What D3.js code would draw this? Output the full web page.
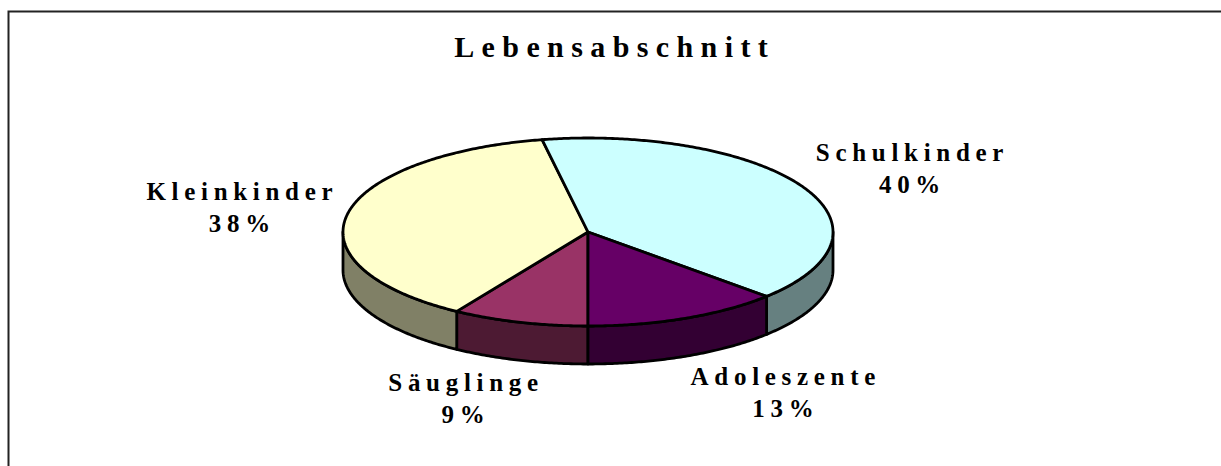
<!DOCTYPE html>
<html><head><meta charset="utf-8">
<script src="https://cdn.jsdelivr.net/npm/d3@7"></script>
<style>html,body{margin:0;background:#fff;overflow:hidden}svg{display:block}</style>
</head><body>
<svg id="c" width="1221" height="466"></svg>
<script>
const title = "Lebensabschnitt";
const categories = ["Säuglinge", "Kleinkinder", "Schulkinder", "Adoleszente"];
const values = [9, 38, 40, 13];
const percentLabels = ["9%", "38%", "40%", "13%"];
const topColors = ["#993366", "#FFFFCC", "#CCFFFF", "#660066"];
const sideColors = ["#4D1A33", "#808066", "#668080", "#330033"];

const W = 1221, H = 466;
const svg = d3.select("#c");
svg.append("rect").attr("x", 0).attr("y", 0).attr("width", W).attr("height", H).attr("fill", "#fff");
svg.append("rect").attr("x", 8.5).attr("y", 11.5).attr("width", 1400).attr("height", 700)
  .attr("fill", "none").attr("stroke", "#222").attr("stroke-width", 2);

const cx = 588, cy = 232, rx = 245, ry = 94, depth = 38;
const pie = d3.pie().sort(null).startAngle(Math.PI).endAngle(3 * Math.PI);
const arcs = pie(values);
const px = a => cx + rx * Math.sin(a);
const py = a => cy - ry * Math.cos(a);

function arcPath(a0, a1, dy) {
  const n = Math.max(2, Math.ceil(Math.abs(a1 - a0) / 0.01));
  return d3.range(n + 1).map(i => {
    const a = a0 + (a1 - a0) * i / n;
    return [px(a), py(a) + dy];
  });
}
const line = d3.line();
const SW = 2.8;

const g = svg.append("g");
arcs.forEach((d, i) => {
  const ranges = [[Math.PI / 2, 3 * Math.PI / 2], [Math.PI / 2 + 2 * Math.PI, 3 * Math.PI / 2 + 2 * Math.PI]];
  ranges.forEach(r => {
    const s = Math.max(d.startAngle, r[0]), e = Math.min(d.endAngle, r[1]);
    if (e > s) {
      const top = arcPath(s, e, 0);
      const bot = arcPath(e, s, depth);
      g.append("path").attr("d", line(top.concat(bot)) + "Z")
        .attr("fill", sideColors[i]).attr("stroke", "#000").attr("stroke-width", SW)
        .attr("stroke-linejoin", "round");
    }
  });
});
arcs.forEach((d, i) => {
  const pts = [[cx, cy]].concat(arcPath(d.startAngle, d.endAngle, 0));
  g.append("path").attr("d", line(pts) + "Z")
    .attr("fill", topColors[i]).attr("stroke", "#000").attr("stroke-width", SW)
    .attr("stroke-linejoin", "round");
});

const fontFam = "'Liberation Serif','Times New Roman',serif";
function measure(str, size, spacing) {
  const t = svg.append("text").attr("font-family", fontFam).attr("font-weight", "bold")
    .attr("font-size", size).attr("letter-spacing", spacing).text(str);
  const len = t.node().getComputedTextLength() - spacing;
  t.remove();
  return len;
}
function spacedText(sel, str, xc, y, size, spacing) {
  const len = measure(str, size, spacing);
  sel.append("text").attr("y", y).attr("font-family", fontFam)
    .attr("font-weight", "bold").attr("font-size", size).attr("letter-spacing", spacing)
    .attr("fill", "#000").attr("x", xc - len / 2).text(str);
}
spacedText(svg, title, 611, 57, 30, 7.4);

const LS = 25, LSP = 5.7;
arcs.forEach((d, i) => {
  const a = (d.startAngle + d.endAngle) / 2;
  const sa = Math.sin(a), ca = Math.cos(a);
  const ax = cx + (rx + 15) * sa;
  const ay = cy - (ry + 15) * ca + (ca < 0 ? depth : 0);
  const w = measure(categories[i], LS, LSP);
  const halfW = w / 2, halfH = 24;
  const lx = ax + Math.sign(sa) * halfW * Math.min(1, 2.5 * Math.abs(sa));
  const ly = ay - ca * halfH + 3;
  spacedText(svg, categories[i], lx, ly - 10, LS, LSP);
  spacedText(svg, percentLabels[i], lx, ly + 22, LS, LSP);
});
</script>
</body></html>
